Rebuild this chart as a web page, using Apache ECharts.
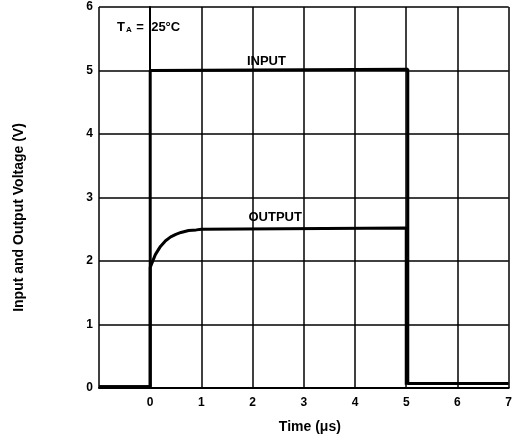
<!DOCTYPE html>
<html>
<head>
<meta charset="utf-8">
<script src="https://cdn.jsdelivr.net/npm/echarts@6/dist/echarts.min.js"></script>
<style>
  html, body { margin: 0; padding: 0; background: #fff; }
  #chart { width: 515px; height: 439px; }
</style>
</head>
<body>
<div id="chart"></div>
<script>
// time (us) and voltage (V) readings
const inputTime = [-1, 0, 0, 5.03, 5.03, 7];
const inputVolts = [0.02, 0.02, 5, 5.02, 0.07, 0.07];

const outputTime = [-1, 0, 0, 0.1, 0.2, 0.3, 0.4, 0.5, 0.6, 0.75, 0.9, 1, 5, 5];
const outputVolts = [0.02, 0.02, 1.9, 2.1, 2.23, 2.32, 2.38, 2.42, 2.45, 2.48, 2.49, 2.5, 2.52, 0.05];

const xTicks = [0, 1, 2, 3, 4, 5, 6, 7];
const font = "Liberation Sans";

const chart = echarts.init(document.getElementById("chart"));

function pairs(xs, ys) {
  return xs.map((x, i) => [x, ys[i]]);
}

const labelStyle = { color: "#000", fontFamily: font, fontWeight: "bold", fontSize: 13 };

const option = {
  animation: false,
  grid: { left: 99, right: 3, top: 7, bottom: 50 },
  xAxis: {
    type: "value",
    min: -1,
    max: 7,
    interval: 1,
    name: "Time (μs)",
    nameLocation: "middle",
    nameGap: 32,
    nameTextStyle: { color: "#000", fontFamily: font, fontWeight: "bold", fontSize: 14, padding: [0, 0, 0, 12] },
    axisLine: { lineStyle: { color: "#000", width: 2 } },
    axisTick: { show: false },
    axisLabel: {
      color: "#000",
      fontFamily: font,
      fontWeight: "bold",
      fontSize: 12,
      margin: 9,
      formatter: (v) => (xTicks.includes(v) ? String(v) : ""),
    },
    splitLine: { show: true, lineStyle: { color: "#000", width: 1.5 } },
  },
  yAxis: {
    type: "value",
    min: 0,
    max: 6,
    interval: 1,
    name: "Input and Output Voltage (V)",
    nameLocation: "middle",
    nameGap: 73,
    nameTextStyle: { color: "#000", fontFamily: font, fontWeight: "bold", fontSize: 14, padding: [0, 40, 0, 0] },
    axisLine: { show: true, lineStyle: { color: "#000", width: 2 } },
    axisTick: { show: false },
    axisLabel: { color: "#000", fontFamily: font, fontWeight: "bold", fontSize: 12, margin: 6 },
    splitLine: { show: true, lineStyle: { color: "#000", width: 1.5 } },
  },
  graphic: [
    {
      type: "text",
      left: 117,
      top: 21,
      style: {
        text: "{b|T}{s|A}{b| =  25°C}",
        rich: {
          b: { fontFamily: font, fontWeight: "bold", fontSize: 13, fill: "#000" },
          s: { fontFamily: font, fontWeight: "bold", fontSize: 8, fill: "#000", verticalAlign: "bottom", padding: [5, 1, 0, 1] },
        },
      },
    },
  ],
  series: [
    {
      name: "INPUT",
      type: "line",
      symbol: "none",
      data: pairs(inputTime, inputVolts),
      lineStyle: { color: "#000", width: 3 },
      markPoint: {
        symbol: "circle",
        symbolSize: 0,
        label: { show: true, position: "inside", formatter: "INPUT", offset: [0, -9], ...labelStyle },
        data: [{ coord: [2.27, 5] }],
      },
    },
    {
      name: "OUTPUT",
      type: "line",
      symbol: "none",
      data: pairs(outputTime, outputVolts),
      lineStyle: { color: "#000", width: 3 },
      markPoint: {
        symbol: "circle",
        symbolSize: 0,
        label: { show: true, position: "inside", formatter: "OUTPUT", offset: [0, -12], ...labelStyle },
        data: [{ coord: [2.44, 2.5] }],
      },
    },
  ],
};

chart.setOption(option);
</script>
</body>
</html>
